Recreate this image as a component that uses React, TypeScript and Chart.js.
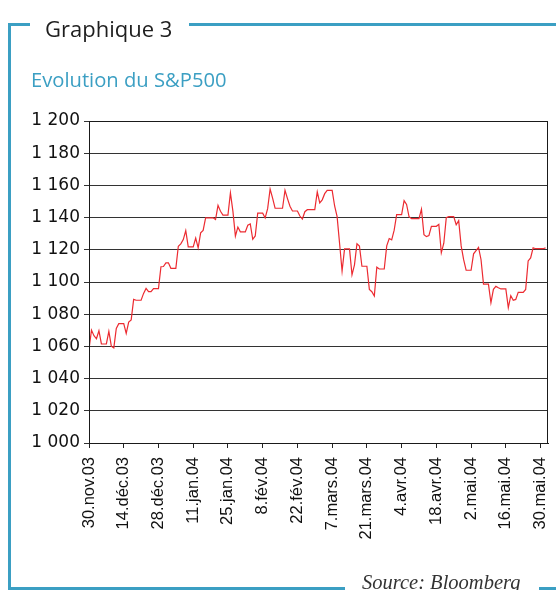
import React, { useEffect, useRef } from "react";
import { Chart, registerables } from "chart.js";

Chart.register(...registerables);

// Calendar-day closes of the S&P500 (weekends / holidays carry the last close), 30.nov.03 -> 1.juin.04
const nov03 = [1058.2];
const dec03 = [
  1070.12, 1066.62, 1064.73, 1069.72, 1061.5, 1061.5, 1061.5, 1069.3, 1060.18, 1059.05,
  1071.21, 1074.14, 1074.14, 1074.14, 1068.04, 1075.13, 1076.48, 1089.18, 1088.66, 1088.66,
  1088.66, 1092.94, 1096.02, 1094.04, 1094.04, 1095.89, 1095.89, 1095.89, 1109.48, 1109.64,
  1111.92,
];
const jan04 = [
  1111.92, 1108.48, 1108.48, 1108.48, 1122.22, 1123.67, 1126.33, 1131.92, 1121.86, 1121.86,
  1121.86, 1127.23, 1121.22, 1130.52, 1132.05, 1139.83, 1139.83, 1139.83, 1139.83, 1138.77,
  1147.62, 1143.94, 1141.55, 1141.55, 1141.55, 1155.37, 1144.05, 1128.48, 1134.11, 1131.13,
  1131.13,
];
const feb04 = [
  1131.13, 1135.26, 1136.03, 1126.52, 1128.59, 1142.76, 1142.76, 1142.76, 1139.81, 1145.54,
  1157.76, 1152.11, 1145.81, 1145.81, 1145.81, 1145.81, 1156.99, 1151.82, 1147.06, 1144.11,
  1144.11, 1144.11, 1140.99, 1139.09, 1143.67, 1144.91, 1144.94, 1144.94, 1144.94,
];
const mar04 = [
  1155.97, 1149.1, 1151.03, 1154.87, 1156.86, 1156.86, 1156.86, 1147.2, 1140.58, 1123.89,
  1106.78, 1120.57, 1120.57, 1120.57, 1104.49, 1110.7, 1123.75, 1122.32, 1109.78, 1109.78,
  1109.78, 1095.4, 1093.95, 1091.33, 1109.19, 1108.06, 1108.06, 1108.06, 1122.47, 1127.0,
  1126.21,
];
const apr04 = [
  1132.17, 1141.81, 1141.81, 1141.81, 1150.57, 1148.16, 1140.53, 1139.32, 1139.32, 1139.32,
  1139.32, 1145.2, 1129.44, 1128.17, 1128.84, 1134.61, 1134.61, 1134.61, 1135.82, 1118.15,
  1124.09, 1139.93, 1140.6, 1140.6, 1140.6, 1135.53, 1138.11, 1122.41, 1113.89, 1107.3,
];
const may04 = [
  1107.3, 1107.3, 1117.49, 1119.55, 1121.53, 1113.99, 1098.7, 1098.7, 1098.7, 1087.12,
  1095.45, 1097.28, 1096.44, 1095.7, 1095.7, 1095.7, 1084.1, 1091.49, 1088.68, 1089.19,
  1093.56, 1093.56, 1093.56, 1095.41, 1113.05, 1114.94, 1121.28, 1120.68, 1120.68, 1120.68,
  1120.68,
];
const jun04 = [1121.2];

const xTickLabels = [
  "30.nov.03", "14.déc.03", "28.déc.03", "11.jan.04", "25.jan.04", "8.fév.04", "22.fév.04",
  "7.mars.04", "21.mars.04", "4.avr.04", "18.avr.04", "2.mai.04", "16.mai.04", "30.mai.04",
];
const tickStepDays = 14;
const yMin = 1000;
const yMax = 1200;
const yStep = 20;

const titleText = "Graphique 3";
const subtitleText = "Evolution du S&P500";
const sourceText = "Source: Bloomberg";

const TEAL = "#3b9fc3";

export default function App() {
  const ref = useRef<HTMLCanvasElement | null>(null);

  useEffect(() => {
    if (!ref.current) return;
    const values = [...nov03, ...dec03, ...jan04, ...feb04, ...mar04, ...apr04, ...may04, ...jun04];
    const points = values.map((v, i) => ({ x: i, y: v }));

    const framePlugin = {
      id: "frame",
      afterDraw(chart: any) {
        const ctx = chart.ctx as CanvasRenderingContext2D;
        const a = chart.chartArea;
        ctx.save();
        // plot border
        ctx.strokeStyle = "#1a1a1a";
        ctx.lineWidth = 1;
        ctx.strokeRect(Math.round(a.left) + 0.5, Math.round(a.top) + 0.5, Math.round(a.right - a.left) - 1, Math.round(a.bottom - a.top));
        // teal frame
        ctx.fillStyle = TEAL;
        ctx.fillRect(8, 23, 3, 567);
        ctx.fillRect(8, 23, 22, 3);
        ctx.fillRect(189, 23, 367, 3);
        ctx.fillRect(8, 587, 337, 3);
        ctx.fillRect(539, 587, 17, 3);
        // titles
        ctx.textBaseline = "alphabetic";
        ctx.textAlign = "left";
        ctx.fillStyle = "#1e1e1e";
        ctx.font = "22px 'Open Sans'";
        ctx.fillText(titleText, 45, 37);
        ctx.fillStyle = TEAL;
        ctx.font = "20.2px 'Open Sans'";
        ctx.fillText(subtitleText, 31, 87);
        ctx.fillStyle = "#333";
        ctx.font = "italic 20.5px 'Liberation Serif'";
        ctx.fillText(sourceText, 362, 589);
        ctx.restore();
      },
    };

    const chart = new Chart(ref.current, {
      type: "line",
      data: {
        datasets: [
          {
            data: points,
            borderColor: "#ec2b31",
            borderWidth: 1.2,
            pointRadius: 0,
            tension: 0,
            fill: false,
          },
        ],
      },
      options: {
        animation: false,
        responsive: false,
        maintainAspectRatio: false,
        parsing: false as any,
        layout: { padding: { top: 121, right: 8, left: 0, bottom: 0 } },
        plugins: { legend: { display: false }, tooltip: { enabled: false } },
        scales: {
          x: {
            type: "linear",
            min: 0,
            max: 185,
            afterBuildTicks: (s: any) => {
              s.ticks = xTickLabels.map((_, i) => ({ value: i * tickStepDays }));
            },
            afterFit: (s: any) => {
              s.height = 147;
              s.paddingLeft = 0;
              s.paddingRight = 0;
            },
            ticks: {
              autoSkip: false,
              minRotation: 90,
              maxRotation: 90,
              padding: 9,
              color: "#111",
              font: { family: "'Liberation Sans', Arial", size: 16.5 },
              callback: (v: any) => xTickLabels[Math.round(Number(v) / tickStepDays)] ?? "",
            },
            grid: { drawOnChartArea: false, drawTicks: true, tickLength: 5, color: "#222", lineWidth: 1 },
            border: { display: true, color: "#1a1a1a", width: 1 },
          },
          y: {
            min: yMin,
            max: yMax,
            afterFit: (s: any) => {
              s.width = 89;
              s.paddingTop = 0;
              s.paddingBottom = 0;
            },
            ticks: {
              stepSize: yStep,
              padding: 4,
              color: "#111",
              font: { family: "'DejaVu Sans'", size: 17 },
              callback: (v: any) => {
                const n = Number(v);
                const th = Math.floor(n / 1000);
                const rest = String(n % 1000).padStart(3, "0");
                return th > 0 ? `${th} ${rest}` : String(n);
              },
            },
            grid: { color: "#333", lineWidth: 1, tickLength: 5, drawTicks: true },
            border: { display: true, color: "#1a1a1a", width: 1 },
          },
        },
      },
      plugins: [framePlugin],
    });
    return () => chart.destroy();
  }, []);

  return (
    <div style={{ position: "absolute", left: 0, top: 0, width: 556, height: 590, background: "#fff" }}>
      <canvas ref={ref} width={556} height={590} style={{ width: 556, height: 590, display: "block" }} />
    </div>
  );
}
